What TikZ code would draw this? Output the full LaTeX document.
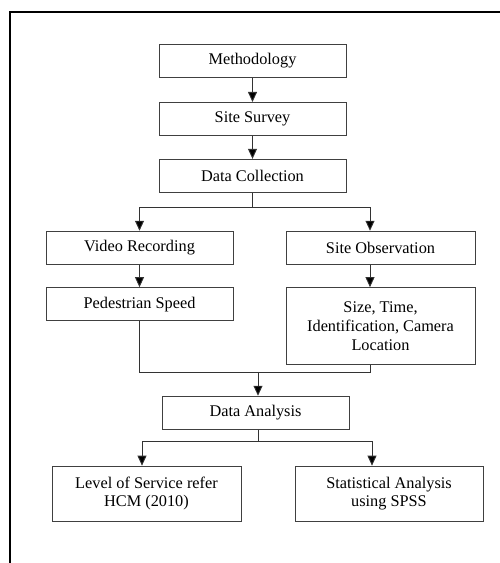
\documentclass[tikz,border=0pt]{standalone}
\usepackage{fontspec}
\setmainfont{Liberation Serif}
\usepackage{tikz}
\usetikzlibrary{shapes,arrows.meta,positioning}
\usetikzlibrary{calc}

\begin{document}
\begin{tikzpicture}[x=1pt,y=1pt,node distance=23pt,
stepbox/.style={
% The shape:
rectangle,
% The size:
minimum width=187pt, minimum height=33pt,
% The border:
draw=black!75, line width=0.9pt,
% Font
font=\fontsize{16.3}{18.7}\selectfont, align=center
},
link/.style={draw=black!80, line width=0.9pt},
arr/.style={link, -{Triangle[width=9pt,length=10pt,fill=black]}}]

% frame (only top and left edge show)
\useasboundingbox (0,0) rectangle (500,-563);
\draw[line width=2pt] (10,-563) -- (10,-12) -- (500,-12);

\node (mt) [stepbox] at (252.5,-61) {Methodology};
\node (ss) [stepbox, below=24pt of mt] {Site Survey};
\node (dc) [stepbox, below=of ss] {Data Collection};
\node (vr) [stepbox, below=38pt of dc, xshift=-113pt] {Video Recording};
\node (so) [stepbox, below=38pt of dc, xshift=128pt, minimum width=189pt] {Site Observation};
\node (ps) [stepbox, below=22.5pt of vr] {Pedestrian Speed};
\node (sl) [stepbox, below=22.5pt of so, minimum width=189pt, minimum height=77pt] {Size, Time,\\ Identification, Camera\\ Location};
\node (da) [stepbox, below=203pt of dc, xshift=3pt] {Data Analysis};
\node (lo) [stepbox, below=36pt of da, xshift=-109pt, minimum width=189pt, minimum height=55pt] {Level of Service refer\\ HCM (2010)};
\node (sa) [stepbox, below=36pt of da, xshift=133.5pt, minimum width=188pt, minimum height=55pt] {Statistical Analysis\\ using SPSS};

% branch points
\coordinate (b1) at ($(dc.south)+(0,-14.5)$);
\coordinate (m1) at ($(ps.south)+(0,-51)$);
\coordinate (m2) at ($(da.north)+(2.5,24)$);
\coordinate (b2) at ($(da.south)+(2.5,-12)$);

\path (mt) edge[arr] (ss);
\path (ss) edge[arr] (dc);
\draw[link] (dc.south) -- (b1);
\draw[arr] (b1) -| (vr.north);
\draw[arr] (b1) -| ([xshift=-10.5pt]so.north);
\path (vr) edge[arr] (ps);
\draw[arr] ([xshift=-10.5pt]so.south) -- ([xshift=-10.5pt]sl.north);
\draw[link] (ps.south) -- (m1) -| ([xshift=-10.5pt]sl.south);
\draw[arr] (m2) -- ([xshift=2.5pt]da.north);
\draw[link] ([xshift=2.5pt]da.south) -- (b2);
\draw[arr] (b2) -| ([xshift=-4.5pt]lo.north);
\draw[arr] (b2) -| ([xshift=-17pt]sa.north);
\end{tikzpicture}
\end{document}
